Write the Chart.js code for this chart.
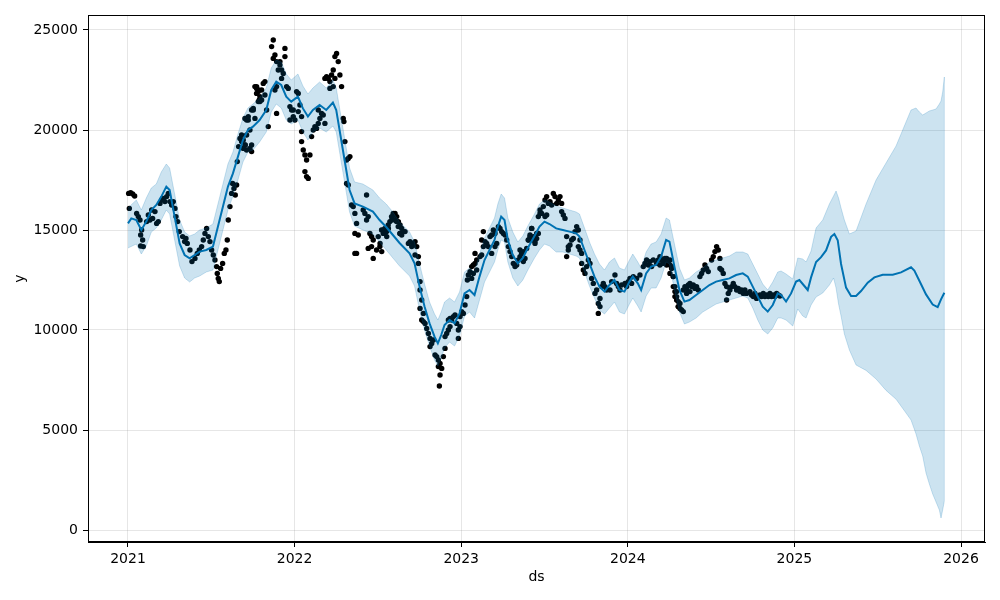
<!DOCTYPE html>
<html>
<head>
<meta charset="utf-8">
<script src="https://cdn.jsdelivr.net/npm/chart.js@4.4.1/dist/chart.umd.min.js"></script>
<style>
  html, body { margin:0; padding:0; background:#fff; }
  canvas { display:block; }
</style>
</head>
<body>
<canvas id="fc" width="1000" height="600"></canvas>
<script>
/* ---------- data (x in decimal years) ---------- */
const xTicks = [2021, 2022, 2023, 2024, 2025, 2026];
const yTicks = [0, 5000, 10000, 15000, 20000, 25000];

// observed points [year, y]
const observed = [
  [2021.004,16830],[2021.016,16870],[2021.028,16800],[2021.040,16700],[2021.008,16080],[2021.052,15830],[2021.062,15670],[2021.072,15500],
  [2021.082,15000],[2021.076,14750],[2021.088,14500],[2021.076,14200],[2021.092,14170],[2021.112,15420],[2021.122,15750],[2021.132,15500],
  [2021.142,16000],[2021.148,15580],[2021.162,15920],[2021.172,15330],[2021.182,15420],[2021.192,16330],[2021.202,16500],[2021.212,16580],
  [2021.222,16420],[2021.232,16670],[2021.242,16830],[2021.252,16420],[2021.262,16250],[2021.272,16420],[2021.282,16080],[2021.288,15670],
  [2021.298,15420],[2021.308,14920],[2021.328,14670],[2021.340,14420],[2021.348,14580],[2021.356,14330],[2021.372,14000],[2021.384,13420],
  [2021.402,13580],[2021.416,13830],[2021.428,14000],[2021.442,14170],[2021.452,14500],[2021.462,14830],[2021.472,15080],[2021.482,14670],
  [2021.492,14420],[2021.502,14000],[2021.512,13750],[2021.522,13500],[2021.532,13170],[2021.536,12830],[2021.542,12580],[2021.548,12420],
  [2021.556,13080],[2021.568,13330],[2021.578,13830],[2021.588,14000],[2021.596,14500],[2021.602,15500],[2021.612,16170],[2021.622,16830],
  [2021.628,17330],[2021.636,17080],[2021.644,16750],[2021.652,17250],[2021.656,18420],[2021.664,19170],[2021.672,19580],[2021.682,19420],
  [2021.692,19080],[2021.704,19250],[2021.712,19750],[2021.722,20500],[2021.732,20000],[2021.742,19250],[2021.712,19000],[2021.752,21000],
  [2021.762,20580],[2021.772,22170],[2021.784,22000],[2021.788,21500],
  [2021.682,19750],[2021.692,19500],[2021.702,19250],[2021.712,20500],[2021.722,20670],[2021.732,19080],[2021.742,18920],[2021.702,20580],
  [2021.742,21000],[2021.752,21080],[2021.762,22170],[2021.772,22080],[2021.782,21920],[2021.792,21670],[2021.802,21500],[2021.812,22330],
  [2021.822,22420],[2021.832,21000],[2021.842,20170],[2021.822,21750],[2021.792,21420],[2021.802,22000],[2021.782,21420],[2021.772,21830],
  [2021.862,24170],[2021.872,24500],[2021.882,23750],[2021.872,23580],[2021.892,23420],[2021.912,23420],[2021.902,23000],[2021.922,23000],
  [2021.932,22830],[2021.942,24080],[2021.942,23670],[2021.912,23250],[2021.922,22580],[2021.892,22170],[2021.882,22000],[2021.892,20830],
  [2021.952,22170],[2021.962,22080],[2021.972,21170],[2021.982,21000],[2021.992,20670],[2022.002,20500],[2021.972,20500],[2021.992,21000],
  [2022.012,21920],[2022.022,21830],[2022.032,21250],[2022.022,20920],[2022.042,20670],[2022.042,19920],[2022.042,19420],[2022.052,19000],
  [2022.062,18750],[2022.072,18500],[2022.062,17920],[2022.072,17670],[2022.082,17580],[2022.092,18750],[2022.102,19670],[2022.112,20000],
  [2022.122,20170],[2022.132,20080],[2022.142,20330],[2022.152,20580],[2022.142,21000],[2022.162,20830],[2022.172,20750],[2022.182,20330],
  [2022.182,22580],[2022.192,22670],[2022.202,22580],[2022.212,22420],[2022.222,22750],[2022.232,23000],[2022.242,23670],[2022.252,23830],
  [2022.262,23420],[2022.272,22750],[2022.282,22170],[2022.212,22080],[2022.232,22170],[2022.242,22580],[2022.292,20580],[2022.296,20420],
  [2022.302,19420],[2022.312,18500],[2022.322,18580],[2022.332,18670],[2022.312,17330],[2022.322,17250],[2022.342,16250],[2022.352,16170],
  [2022.362,15830],[2022.372,15330],[2022.362,14830],[2022.372,13830],[2022.362,13830],[2022.382,14750],[2022.412,16000],[2022.422,15830],
  [2022.432,16750],[2022.442,15670],[2022.432,15500],[2022.452,14830],[2022.462,14670],[2022.472,14500],[2022.442,14080],[2022.462,14170],
  [2022.472,13580],[2022.492,14000],[2022.502,14670],[2022.512,14170],[2022.522,15000],[2022.532,14830],[2022.542,15080],[2022.552,14920],
  [2022.562,15250],[2022.572,15420],[2022.582,15670],[2022.592,15830],[2022.602,15500],[2022.612,15420],[2022.622,15170],[2022.632,14830],
  [2022.513,14330],[2022.523,13920],[2022.533,15000],[2022.543,14830],[2022.553,14670],[2022.563,15080],[2022.583,15500],[2022.593,15750],
  [2022.603,15830],[2022.613,15670],[2022.623,15420],[2022.633,15250],[2022.643,15080],[2022.653,14920],[2022.633,14830],[2022.663,14920],
  [2022.643,14750],[2022.683,14330],[2022.693,14420],[2022.703,14170],[2022.713,14330],[2022.723,14420],[2022.733,14170],[2022.723,13750],
  [2022.743,13670],[2022.743,13330],[2022.753,12420],[2022.753,12000],[2022.763,11500],[2022.753,11080],[2022.773,10830],[2022.763,10500],
  [2022.773,10420],[2022.783,10330],[2022.793,10080],[2022.803,9830],[2022.813,9580],[2022.813,9170],[2022.823,9330],[2022.833,9500],
  [2022.843,8750],[2022.853,8670],[2022.863,8500],[2022.873,8330],[2022.863,8170],[2022.873,7750],[2022.869,7200],[2022.883,8080],
  [2022.893,8670],[2022.903,9080],[2022.903,9670],[2022.913,9830],[2022.923,10000],[2022.933,10170],[2022.943,10500],[2022.953,10670],
  [2022.963,10750],[2022.973,10330],[2022.983,10000],[2022.993,10170],[2022.983,9580],[2022.923,10500],[2022.933,10580],[2022.993,10670],
  [2023.003,10920],[2023.013,10830],[2023.023,11250],[2023.033,11670],[2023.037,12500],[2023.043,12750],[2023.053,12920],[2023.063,13170],
  [2023.073,13250],[2023.083,13330],[2023.093,13000],[2023.093,13500],[2023.083,13830],[2023.073,12830],[2023.063,12580],[2023.113,13670],
  [2023.123,13750],[2023.133,14170],[2023.123,14500],[2023.133,14920],[2023.143,14420],[2023.153,14330],[2023.163,14170],[2023.173,14670],
  [2023.183,14750],[2023.193,15000],[2023.203,14830],[2023.183,13830],[2023.203,14170],[2023.213,14330],[2023.223,15170],[2023.233,15080],
  [2023.243,14920],[2023.253,14830],[2023.263,14750],[2023.273,14500],[2023.283,14170],[2023.293,13920],[2023.303,13670],[2023.313,13330],
  [2023.323,13170],[2023.333,13250],[2023.343,13500],[2023.353,13670],[2023.363,13830],[2023.373,13920],[2023.393,14080],[2023.403,14500],
  [2023.413,14670],[2023.423,15080],[2023.433,14500],[2023.443,14330],[2023.453,14830],[2023.463,15670],[2023.473,15830],
  [2023.353,14000],[2023.363,13830],[2023.373,13420],[2023.383,13580],[2023.403,14500],[2023.413,14750],[2023.423,15080],[2023.433,14670],
  [2023.443,14420],[2023.453,14580],[2023.463,14830],[2023.473,16000],[2023.483,15830],[2023.493,16170],[2023.503,16500],[2023.513,16670],
  [2023.523,16330],[2023.533,16420],[2023.543,16250],[2023.553,16830],[2023.563,16670],[2023.573,16330],[2023.583,16500],[2023.593,16670],
  [2023.603,16330],[2023.513,15750],[2023.503,15670],[2023.603,15920],[2023.613,15750],[2023.623,15580],[2023.633,14670],[2023.643,14170],
  [2023.653,14250],[2023.643,14000],[2023.633,13670],[2023.663,14500],[2023.673,14580],[2023.683,14920],[2023.693,15170],[2023.703,15000],
  [2023.713,14500],[2023.703,14170],[2023.713,14000],[2023.723,13830],[2023.723,13330],[2023.733,13000],[2023.743,12830],[2023.753,13170],
  [2023.763,13500],[2023.773,13330],[2023.783,12580],[2023.793,12330],[2023.803,11830],[2023.813,12000],[2023.823,11330],[2023.833,11170],
  [2023.823,10830],[2023.833,11580],[2023.843,12170],[2023.853,12330],[2023.863,12170],[2023.873,12000],[2023.893,12000],[2023.903,12420],
  [2023.923,12750],[2023.933,12330],[2023.943,12170],[2023.953,12000],[2023.963,12250],[2023.983,12330],[2023.993,12170],[2024.003,12420],
  [2024.013,12580],[2024.023,12330],[2024.033,12670],[2024.053,12580],[2024.073,12750],[2024.093,13170],[2024.103,13330],[2024.113,13500],
  [2024.123,13250],[2024.133,13420],[2024.143,13170],[2024.153,13500],[2024.173,13330],[2024.183,13500],[2024.193,13250],[2024.203,13500],
  [2024.213,13330],[2024.223,13580],[2024.233,13250],[2024.243,13420],[2024.253,13500],[2024.263,13170],[2024.273,12670],[2024.283,12170],
  [2024.293,11670],[2024.303,11170],[2024.313,11330],
  [2024.193,13670],[2024.203,13500],[2024.213,13330],[2024.223,13500],[2024.233,13580],[2024.243,13420],[2024.253,13250],[2024.263,13080],
  [2024.253,12830],[2024.273,12670],[2024.273,12170],[2024.283,11920],[2024.283,11670],[2024.293,11500],[2024.303,11170],[2024.313,11080],
  [2024.323,11000],[2024.333,10920],[2024.303,11420],[2024.293,11920],[2024.333,12000],[2024.343,12170],[2024.353,12080],[2024.363,12250],
  [2024.373,12330],[2024.383,12170],[2024.393,12250],[2024.403,12080],[2024.413,12170],[2024.423,12000],[2024.353,11830],[2024.373,11920],
  [2024.433,12670],[2024.443,12830],[2024.453,13000],[2024.463,13250],[2024.473,13080],[2024.483,12920],[2024.503,13500],[2024.513,13670],
  [2024.523,13920],[2024.533,14170],[2024.543,14000],[2024.553,13580],[2024.553,13080],[2024.563,13000],[2024.573,12830],[2024.583,12330],
  [2024.593,12170],[2024.603,11830],[2024.593,11500],[2024.613,12000],[2024.623,12170],[2024.633,12330],[2024.643,12170],[2024.653,12000],
  [2024.663,12080],[2024.673,11920],[2024.683,12000],[2024.693,11830],[2024.703,12000],[2024.713,11830],[2024.733,11920],[2024.743,11750],
  [2024.753,11670],[2024.763,11830],[2024.773,11580],[2024.783,11670],[2024.793,11750],[2024.803,11670],[2024.813,11830],[2024.823,11670],
  [2024.833,11750],[2024.843,11670],[2024.853,11830],[2024.863,11670],[2024.873,11750],[2024.883,11670],[2024.893,11830],[2024.903,11750],
  [2024.913,11700]
];

// forecast yhat [year, yhat]
const yhat = [
  [2021.00,15330],[2021.02,15580],[2021.05,15500],[2021.08,15000],[2021.11,15420],[2021.14,16000],[2021.17,16250],[2021.20,16670],
  [2021.23,17170],[2021.25,17000],[2021.28,15670],[2021.31,14330],[2021.34,13750],[2021.37,13580],[2021.40,13750],[2021.43,13920],
  [2021.47,14000],[2021.51,14170],[2021.54,15170],[2021.57,16170],[2021.60,17170],[2021.63,17830],[2021.66,18670],[2021.69,19500],
  [2021.72,20000],[2021.75,20170],[2021.79,20500],[2021.83,21000],[2021.86,22000],[2021.89,22420],[2021.92,22250],[2021.95,21670],
  [2021.98,21420],[2022.02,21670],[2022.05,21080],[2022.08,20670],[2022.11,21000],[2022.15,21250],[2022.19,21000],[2022.23,21370],
  [2022.25,21000],[2022.27,20000],[2022.30,18500],[2022.33,17000],[2022.36,16330],[2022.41,16170],[2022.47,15920],[2022.51,15500],
  [2022.55,15150],[2022.59,14750],[2022.63,14350],[2022.69,13830],[2022.72,13330],[2022.75,12170],[2022.78,11170],[2022.81,10330],
  [2022.84,9670],[2022.86,9330],[2022.88,9750],[2022.90,10250],[2022.93,10500],[2022.96,10330],[2022.99,10830],[2023.02,11830],
  [2023.05,12000],[2023.08,11750],[2023.11,12670],[2023.14,13500],[2023.17,14000],[2023.20,14500],[2023.22,15170],[2023.24,15670],
  [2023.26,15500],[2023.28,14500],[2023.31,13750],[2023.34,13330],[2023.37,13600],[2023.40,14100],[2023.44,14700],[2023.47,15170],
  [2023.50,15420],[2023.53,15300],[2023.57,15080],[2023.61,15000],[2023.65,14920],[2023.69,14830],[2023.71,14670],[2023.74,14000],
  [2023.77,13330],[2023.80,12670],[2023.83,12170],[2023.86,11920],[2023.89,12250],[2023.92,12500],[2023.95,12000],[2023.98,11920],
  [2024.01,12420],[2024.03,12670],[2024.06,12330],[2024.08,12000],[2024.11,12830],[2024.14,13170],[2024.17,13250],[2024.20,13670],
  [2024.23,14500],[2024.25,14420],[2024.28,13170],[2024.31,12000],[2024.34,11420],[2024.37,11500],[2024.41,11750],[2024.45,12000],
  [2024.49,12250],[2024.53,12420],[2024.57,12500],[2024.61,12580],[2024.65,12750],[2024.69,12830],[2024.72,12670],[2024.75,12170],
  [2024.78,11670],[2024.81,11170],[2024.84,10920],[2024.87,11250],[2024.90,11830],[2024.92,11750],[2024.95,11420],[2024.98,11830],
  [2025.01,12420],[2025.03,12500],[2025.06,12200],[2025.08,12000],[2025.10,12630],[2025.13,13400],[2025.16,13640],[2025.19,13980],
  [2025.22,14660],[2025.24,14800],[2025.26,14490],[2025.28,13300],[2025.31,12120],[2025.34,11700],[2025.37,11700],[2025.40,11950],
  [2025.44,12370],[2025.48,12630],[2025.53,12760],[2025.59,12760],[2025.64,12880],[2025.70,13135],[2025.72,12970],[2025.75,12460],
  [2025.79,11780],[2025.83,11270],[2025.86,11140],[2025.88,11530],[2025.90,11860]
];

// uncertainty interval [year, lower, upper]
const band = [
  [2021.00,14100,16100],[2021.05,14300,16500],[2021.08,13800,16000],[2021.11,14200,16600],[2021.14,14900,17100],[2021.17,15100,17300],
  [2021.20,15500,17900],[2021.23,16000,18300],[2021.25,15800,18100],[2021.28,14500,16800],[2021.31,13200,15500],[2021.34,12600,14900],
  [2021.37,12400,14700],[2021.40,12600,14800],[2021.43,12700,15000],[2021.47,12900,15100],[2021.51,13000,15300],[2021.54,14000,16300],
  [2021.57,15000,17300],[2021.60,16000,18300],[2021.63,16700,18900],[2021.66,17500,19800],[2021.69,18400,20600],[2021.72,18900,21100],
  [2021.75,19000,21300],[2021.79,19400,21600],[2021.83,19900,22100],[2021.86,20900,23100],[2021.89,21300,23500],[2021.92,21100,23400],
  [2021.95,20500,22800],[2021.98,20300,22500],[2022.02,20500,22800],[2022.05,19900,22200],[2022.08,19500,21800],[2022.11,19900,22100],
  [2022.15,20100,22400],[2022.19,19900,22100],[2022.23,20200,22500],[2022.25,19900,22100],[2022.27,18900,21100],[2022.30,17400,19600],
  [2022.33,15900,18100],[2022.36,15200,17400],[2022.41,15000,17300],[2022.47,14800,17000],[2022.51,14400,16600],[2022.55,14000,16300],
  [2022.59,13600,15900],[2022.63,13200,15400],[2022.69,12700,14900],[2022.72,12200,14400],[2022.75,11000,13300],[2022.78,10000,12300],
  [2022.81,9200,11400],[2022.84,8500,10800],[2022.86,8200,10500],[2022.88,8600,10900],[2022.90,9100,11400],[2022.93,9400,11600],
  [2022.96,9200,11400],[2022.99,9700,11900],[2023.02,10700,12900],[2023.05,10900,13100],[2023.08,10600,12900],[2023.11,11500,13800],
  [2023.14,12400,14600],[2023.17,12900,15100],[2023.20,13400,15600],[2023.22,14000,16300],[2023.24,14500,16800],[2023.26,14400,16600],
  [2023.28,13400,15600],[2023.31,12600,14900],[2023.34,12200,14400],[2023.37,12500,14700],[2023.40,13000,15200],[2023.44,13600,15800],
  [2023.47,14000,16300],[2023.50,14300,16500],[2023.53,14200,16400],[2023.57,13900,16200],[2023.61,13900,16100],[2023.65,13800,16000],
  [2023.69,13700,15900],[2023.71,13600,15800],[2023.74,12900,15100],[2023.77,12200,14400],[2023.80,11600,13800],[2023.83,11000,13300],
  [2023.86,10800,13000],[2023.89,11100,13400],[2023.92,11400,13600],[2023.95,10900,13100],[2023.98,10800,13000],[2024.01,11300,13500],
  [2024.03,11600,13800],[2024.06,11200,13400],[2024.08,10900,13100],[2024.11,11700,13900],[2024.14,12100,14300],[2024.17,12100,14400],
  [2024.20,12600,14800],[2024.23,13400,15600],[2024.25,13300,15500],[2024.28,12000,14300],[2024.31,10900,13100],[2024.34,10300,12500],
  [2024.37,10400,12600],[2024.41,10600,12900],[2024.45,10900,13100],[2024.49,11100,13400],[2024.53,11300,13500],[2024.57,11400,13600],
  [2024.61,11500,13700],[2024.65,11600,13900],[2024.69,11700,13900],[2024.72,11600,13800],[2024.75,11100,13300],[2024.78,10500,12800],
  [2024.81,10000,12300],[2024.84,9800,12000],[2024.87,10100,12400],[2024.90,10600,12900],
  [2024.92,10600,12950],[2024.95,10500,12800],[2024.99,10200,12550],[2025.02,11050,13600],[2025.05,10700,13550],[2025.07,10600,13400],
  [2025.10,11250,13950],[2025.13,11650,15100],[2025.17,11850,15500],[2025.21,12250,16300],[2025.235,12600,16700],[2025.25,12100,16950],
  [2025.265,11300,16600],[2025.28,10700,16100],[2025.30,9800,15500],[2025.33,9000,14800],[2025.37,8250,14950],[2025.43,7980,16300],
  [2025.49,7550,17500],[2025.55,6980,18350],[2025.61,6540,19200],[2025.67,5850,20400],[2025.70,5500,21000],[2025.73,4800,21100],
  [2025.75,4200,20900],[2025.77,3700,20750],[2025.79,2850,20850],[2025.81,2300,20950],[2025.83,1800,21000],[2025.85,1400,21050],
  [2025.87,1000,21300],[2025.88,600,21450],[2025.89,1000,21900],[2025.90,1450,22650]
];

/* ---------- styling ---------- */
const FONT = "'DejaVu Sans', sans-serif";
const BLUE = '#0072B2';
const BAND = 'rgba(0,114,178,0.2)';
const GRID = 'rgba(128,128,128,0.2)';

const bandEnd = band[band.length - 1];

const frame = {
  id: 'frame',
  afterDraw(chart){
    const a = chart.chartArea, ctx = chart.ctx;
    ctx.save();
    ctx.strokeStyle = '#000';
    ctx.lineWidth = 1;
    ctx.strokeRect(a.left + 0.5, a.top + 0.5, a.right - a.left - 1, a.bottom - a.top - 1);
    ctx.restore();
  }
};

new Chart(document.getElementById('fc'), {
  type: 'scatter',
  data: {
    datasets: [
      {
        label: 'lower',
        data: band.map(b => ({x: b[0], y: b[1]})),
        showLine: true, pointRadius: 0, borderWidth: 1,
        borderColor: BAND, fill: false, order: 1
      },
      {
        label: 'upper',
        data: band.map(b => ({x: b[0], y: b[2]})),
        showLine: true, pointRadius: 0, borderWidth: 1,
        borderColor: BAND, backgroundColor: BAND, fill: '-1', order: 1
      },
      {
        label: 'band edge',
        data: [{x: bandEnd[0], y: bandEnd[1]}, {x: bandEnd[0], y: bandEnd[2]}],
        showLine: true, pointRadius: 0, borderWidth: 1,
        borderColor: BAND, fill: false, order: 1
      },
      {
        label: 'yhat',
        data: yhat.map(p => ({x: p[0], y: p[1]})),
        showLine: true, pointRadius: 0, borderWidth: 2,
        borderColor: BLUE, fill: false, order: 2
      },
      {
        label: 'y',
        data: observed.map(p => ({x: p[0], y: p[1]})),
        pointRadius: 2.7, pointBorderWidth: 0,
        backgroundColor: '#000', borderColor: '#000', order: 3
      }
    ]
  },
  options: {
    responsive: false,
    devicePixelRatio: 1,
    animation: false,
    layout: { padding: { top: 15, right: 15, left: 0, bottom: 0 } },
    plugins: { legend: { display: false }, tooltip: { enabled: false } },
    scales: {
      x: {
        type: 'linear', min: 2020.760, max: 2026.144,
        afterBuildTicks: s => { s.ticks = xTicks.map(v => ({value: v})); },
        afterFit: s => { s.height = 58; },
        grid: { color: GRID, tickColor: '#000', tickLength: 5, lineWidth: 1 },
        border: { display: true, color: '#000', width: 1 },
        ticks: { color: '#000', padding: 4, maxRotation: 0, font: { family: FONT, size: 14 }, callback: v => String(v) },
        title: { display: true, text: 'ds', color: '#000', font: { family: FONT, size: 14 }, padding: { top: 4, bottom: 14 } }
      },
      y: {
        type: 'linear', min: -600, max: 25750,
        afterBuildTicks: s => { s.ticks = yTicks.map(v => ({value: v})); },
        afterFit: s => { s.width = 88; },
        grid: { color: GRID, tickColor: '#000', tickLength: 5, lineWidth: 1 },
        border: { display: true, color: '#000', width: 1 },
        ticks: { color: '#000', padding: 5, font: { family: FONT, size: 14 }, callback: v => String(v) },
        title: { display: true, text: 'y', color: '#000', font: { family: FONT, size: 14 }, padding: { top: 12 } }
      }
    }
  },
  plugins: [frame]
});
</script>
</body>
</html>
